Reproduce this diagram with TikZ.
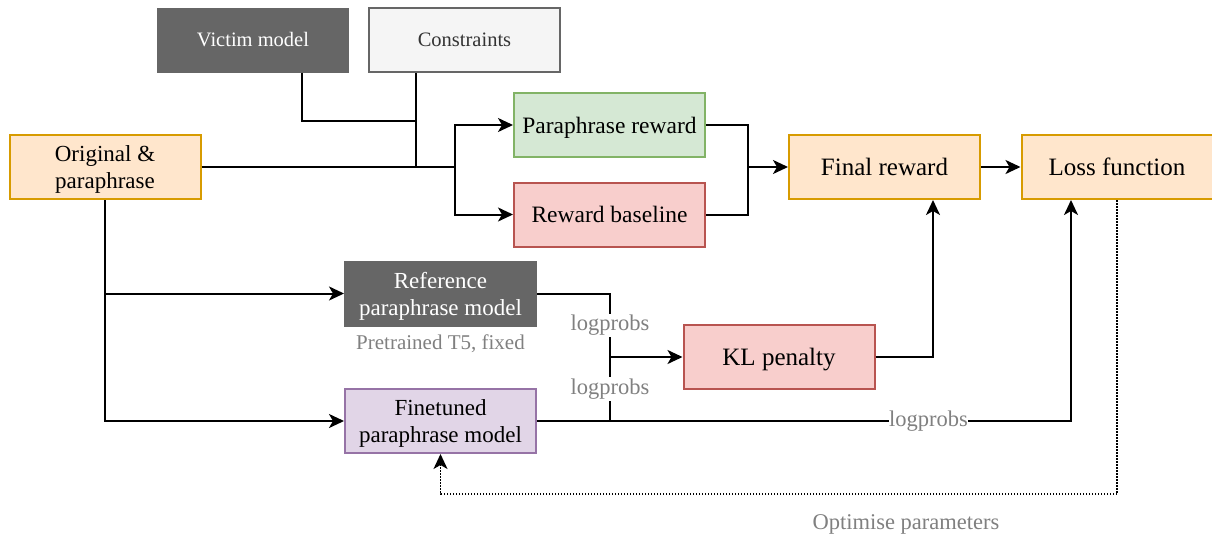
\documentclass[tikz,border=0pt]{standalone}
\usepackage{fontspec}
\setmainfont{Liberation Serif}
\newfontfamily\tnr{Liberation Serif}
\usetikzlibrary{arrows.meta}
\definecolor{orfill}{HTML}{FFE6CC}\definecolor{ordraw}{HTML}{D79B00}
\definecolor{grfill}{HTML}{D5E8D4}\definecolor{grdraw}{HTML}{82B366}
\definecolor{rdfill}{HTML}{F8CECC}\definecolor{rddraw}{HTML}{B85450}
\definecolor{pufill}{HTML}{E1D5E7}\definecolor{pudraw}{HTML}{9673A6}
\definecolor{dkgrey}{HTML}{666666}\definecolor{ltgrey}{HTML}{F5F5F5}
\definecolor{txtgrey}{HTML}{333333}\definecolor{lblgrey}{HTML}{808080}
\tikzset{
  box/.style={draw, line width=2pt, minimum width=191pt, minimum height=64pt, inner sep=0pt, align=center, anchor=center},
  fA/.style={font=\tnr\fontsize{20.5}{24}\selectfont},
  fBone/.style={font=\tnr\fontsize{23.5}{27}\selectfont, text height=17.6pt, text depth=1.2pt},
  fBtwo/.style={font=\tnr\fontsize{23}{27}\selectfont, text depth=0pt},
  fC/.style={font=\tnr\fontsize{25}{28}\selectfont, text height=18.8pt, text depth=1.2pt},
  orange/.style={box, fill=orfill, draw=ordraw},
  green/.style={box, fill=grfill, draw=grdraw},
  red/.style={box, fill=rdfill, draw=rddraw},
  purple/.style={box, fill=pufill, draw=pudraw},
  dark/.style={box, fill=dkgrey, draw=dkgrey, text=white},
  light/.style={box, fill=ltgrey, draw=dkgrey, text=txtgrey},
  conn/.style={line width=2pt, black},
  arr/.style={conn, -{Stealth[length=15pt,width=14pt,inset=4pt]}},
  dots/.style={line width=1.5pt, dash pattern=on 1.5pt off 1.5pt, -{Stealth[length=15pt,width=14pt,inset=4pt]}},
  lbl/.style={fill=white, text=lblgrey, inner sep=1.5pt, font=\tnr\fontsize{22.5}{26}\selectfont},
  note/.style={text=lblgrey, inner sep=0pt, anchor=base, font=\tnr\fontsize{21}{24}\selectfont}
}
\begin{document}
\begin{tikzpicture}[x=1pt,y=-1pt]
\useasboundingbox (0,0) rectangle (1212,536);
\node[dark, fA, minimum width=190pt, minimum height=63pt] (victim) at (253,40) {Victim model};
\node[light, fA] (constraints) at (464.5,40) {Constraints};
\node[orange, fBtwo] (orig) at (105,167) {Original \&\\paraphrase};
\node[green, fBone] (prew) at (609.5,125) {Paraphrase reward};
\node[red, fBone] (rbase) at (609.5,214.5) {Reward baseline};
\node[orange, fC] (final) at (884.5,167) {Final reward};
\node[orange, fC] (loss) at (1117,167) {Loss function};
\node[dark, fBtwo] (ref) at (440.5,293.5) {Reference\\paraphrase model};
\node[note] (pre) at (440.5,349.5) {Pretrained T5, fixed};
\node[purple, fBtwo] (fine) at (440.5,421) {Finetuned\\paraphrase model};
\node[red, fC] (kl) at (779,357) {KL penalty};
\node[note, font=\tnr\fontsize{22.5}{26}\selectfont] (opt) at (906,529) {Optimise parameters};

\coordinate (vj) at (302,121);
\coordinate (j1) at (416,121);
\coordinate (j2) at (416,167);
\coordinate (split) at (455,167);
\coordinate (m1) at (748,167);
\coordinate (m2) at (610,357);
\coordinate (lj) at (1071,421);
\coordinate (fj) at (933,357);
\coordinate (dj) at (1117,494);

\draw[conn] (vj |- victim.south) -- (vj) -- (j1);
\draw[conn] (j2 |- constraints.south) -- (j2);
\draw[conn] (orig.east) -- (split);
\draw[arr] (split) |- (prew.west);
\draw[arr] (split) |- (rbase.west);
\draw[conn] (prew.east) -| (m1);
\draw[conn] (rbase.east) -| (m1);
\draw[arr] (m1) -- (final.west);
\draw[arr] (final.east) -- (loss.west);
\draw[arr] (orig.south) |- (fine.west);
\draw[arr] (orig.south |- ref.west) -- (ref.west);
\draw[conn] (ref.east) -| node[lbl, pos=0.75] {logprobs} (m2);
\draw[conn] (fine.east) -| node[lbl, pos=0.75] {logprobs} (m2);
\draw[arr] (m2) -- (kl.west);
\draw[arr] (fine.east) -- node[lbl, pos=0.733, inner xsep=0.5pt] {logprobs} (lj) -- (lj |- loss.south);
\draw[arr] (kl.east) -| (fj |- final.south);
\draw[dots] (loss.south) -- (dj) -| (fine.south);
\end{tikzpicture}
\end{document}
